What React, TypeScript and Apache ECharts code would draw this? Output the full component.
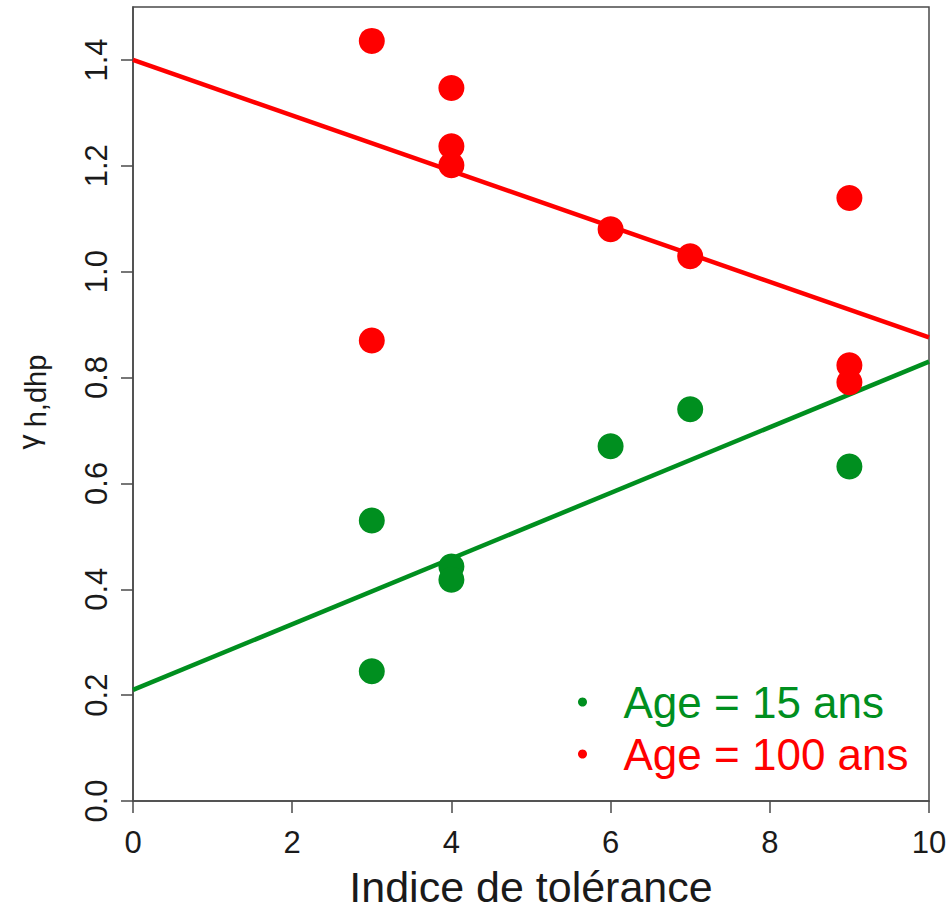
import React, { useEffect, useRef } from "react";
import * as echarts from "echarts";

// ---- data ----
const seriesNames = ["Age = 15 ans", "Age = 100 ans"];
const tol15 = [3, 3, 4, 4, 6, 7, 9];
const gamma15 = [0.53, 0.245, 0.443, 0.418, 0.67, 0.74, 0.632];
const tol100 = [3, 3, 4, 4, 4, 6, 7, 9, 9, 9];
const gamma100 = [1.436, 0.87, 1.347, 1.237, 1.201, 1.08, 1.029, 1.139, 0.823, 0.791];
const fitX = [0, 10];
const fit15 = [0.21, 0.83];
const fit100 = [1.4, 0.876];
const xTicks = [0, 2, 4, 6, 8, 10];
const yTicks = [0, 0.2, 0.4, 0.6, 0.8, 1.0, 1.2, 1.4];

const GREEN = "#008F1F";
const RED = "#FF0000";
const FONT = "'Liberation Sans', Arial, Helvetica, sans-serif";
const AXIS = "#4a4a4a";

const zip = (xs: number[], ys: number[]) => xs.map((x, i) => [x, ys[i]]);

export default function App() {
  const ref = useRef<HTMLDivElement>(null);
  useEffect(() => {
    if (!ref.current) return;
    const chart = echarts.init(ref.current, null, { renderer: "svg" });
    chart.setOption({
      animation: false,
      backgroundColor: "#ffffff",
      grid: {
        left: 133,
        right: 20,
        top: 7,
        bottom: 108,
        show: true,
        borderColor: AXIS,
        borderWidth: 1.5,
        containLabel: false,
        outerBoundsMode: "none",
      },
      xAxis: {
        type: "value",
        min: 0,
        max: 10,
        interval: 2,
        name: "Indice de tolérance",
        nameLocation: "middle",
        nameGap: 64,
        nameMoveOverlap: false,
        nameTextStyle: { fontSize: 43, fontFamily: FONT, color: "#1a1a1a" },
        axisLine: { show: true, lineStyle: { color: AXIS, width: 1.5 } },
        axisTick: { show: true, length: 12, lineStyle: { color: AXIS, width: 1.5 }, customValues: xTicks },
        axisLabel: {
          fontSize: 31,
          fontFamily: FONT,
          color: "#1a1a1a",
          margin: 26,
          customValues: xTicks,
          showMinLabel: true,
          showMaxLabel: true,
        },
        splitLine: { show: false },
      },
      yAxis: {
        type: "value",
        min: 0,
        max: 1.5,
        interval: 0.1,
        axisLine: { show: true, lineStyle: { color: AXIS, width: 1.5 } },
        axisTick: { show: true, length: 12, lineStyle: { color: AXIS, width: 1.5 }, customValues: yTicks },
        axisLabel: {
          fontSize: 31,
          fontFamily: FONT,
          color: "#1a1a1a",
          margin: 21,
          rotate: 90,
          customValues: yTicks,
          formatter: (v: number) => v.toFixed(1),
        },
        splitLine: { show: false },
      },
      legend: {
        orient: "vertical",
        left: 573,
        top: 675,
        itemWidth: 72,
        itemHeight: 9,
        itemGap: 8,
        selectedMode: false,
        textStyle: { fontSize: 44, fontFamily: FONT, lineHeight: 44 },
        data: [
          { name: seriesNames[0], icon: "circle", textStyle: { color: GREEN } },
          { name: seriesNames[1], icon: "circle", textStyle: { color: RED } },
        ],
      },
      graphic: [
        {
          type: "text",
          x: 28,
          y: 442,
          rotation: Math.PI / 2,
          style: { text: "γ", fontSize: 30, fontFamily: FONT, fill: "#1a1a1a", align: "center", verticalAlign: "middle" },
        },
        {
          type: "text",
          x: 36,
          y: 391,
          rotation: Math.PI / 2,
          style: { text: "h,dhp", fontSize: 29, fontFamily: FONT, fill: "#1a1a1a", align: "center", verticalAlign: "middle" },
        },
      ],
      series: [
        {
          name: "fit15",
          type: "line",
          data: zip(fitX, fit15),
          showSymbol: false,
          symbol: "none",
          silent: true,
          lineStyle: { color: GREEN, width: 4.5 },
          z: 1,
        },
        {
          name: "fit100",
          type: "line",
          data: zip(fitX, fit100),
          showSymbol: false,
          symbol: "none",
          silent: true,
          lineStyle: { color: RED, width: 4.5 },
          z: 1,
        },
        {
          name: seriesNames[0],
          type: "scatter",
          data: zip(tol15, gamma15),
          symbol: "circle",
          symbolSize: 26,
          itemStyle: { color: GREEN, opacity: 1 },
          z: 3,
        },
        {
          name: seriesNames[1],
          type: "scatter",
          data: zip(tol100, gamma100),
          symbol: "circle",
          symbolSize: 26,
          itemStyle: { color: RED, opacity: 1 },
          z: 3,
        },
      ],
    });
    return () => chart.dispose();
  }, []);
  return (
    <div
      ref={ref}
      style={{ position: "fixed", left: 0, top: 0, width: 949, height: 909, background: "#fff" }}
    />
  );
}
